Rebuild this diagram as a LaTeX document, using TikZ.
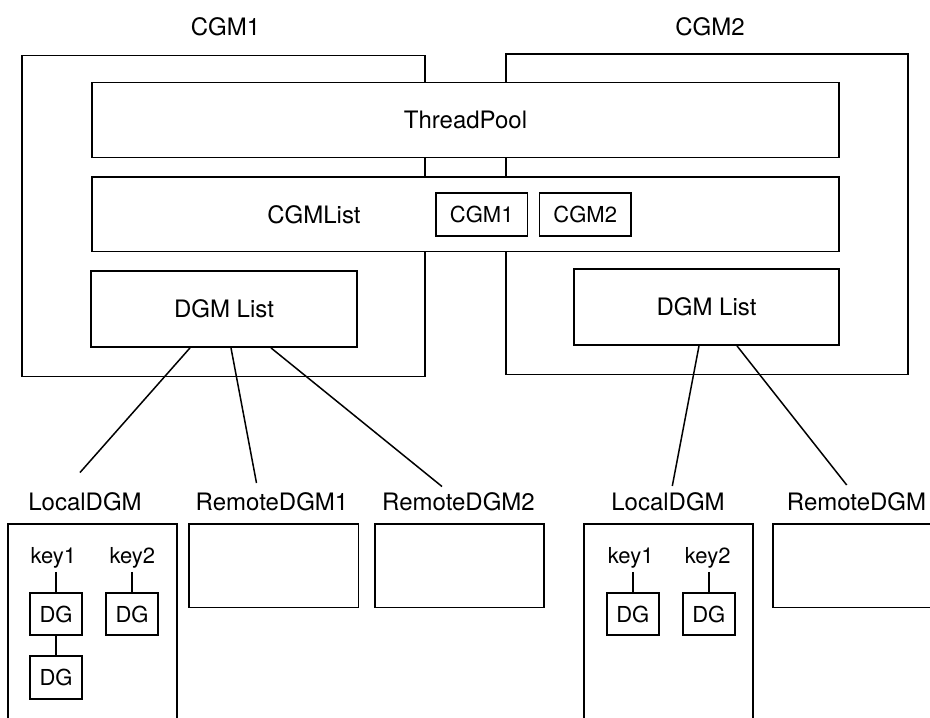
\documentclass[tikz,border=0pt]{standalone}
\usepackage{fontspec}
\setmainfont{TeX Gyre Heros}
\begin{document}
\begin{tikzpicture}[x=1pt,y=-1pt,
  frame/.style={draw, line width=1.8pt, inner sep=0pt},
  box/.style={draw, fill=white, line width=1.8pt, inner sep=0pt, font=\fontsize{24}{28}\selectfont},
  sbox/.style={draw, fill=white, line width=1.8pt, inner sep=0pt, font=\fontsize{22}{26}\selectfont},
  lbl/.style={inner sep=0pt, anchor=base, font=\fontsize{24}{28}\selectfont},
  klbl/.style={inner sep=0pt, outer sep=3.5pt, anchor=base, font=\fontsize{22}{26}\selectfont},
  link/.style={line width=1.5pt}]
\useasboundingbox (0,0) rectangle (930,718);
\clip (0,0) rectangle (930,718);
% frames
\node[frame, minimum width=403pt, minimum height=321pt] (cgmA) at (223.5,216) {};
\node[frame, minimum width=402pt, minimum height=320.5pt] (cgmB) at (707,214.25) {};
\node[lbl] (tA) at (225.5,35) {CGM1};
\node[lbl] (tB) at (710,35) {CGM2};
% shared boxes
\node[box, minimum width=747pt, minimum height=75pt] (pool) at (465.5,120) {ThreadPool};
\node[box, minimum width=747pt, minimum height=74.5pt] (clist) at (465.5,214.25) {};
\node[lbl] (clistT) at (314,223.3) {CGMList};
\node[sbox, minimum width=91.5pt, minimum height=43pt] (c1) at (481.75,214.5) {CGM1};
\node[sbox, minimum width=91.5pt, minimum height=43pt] (c2) at (585.25,214.5) {CGM2};
% DGM lists
\node[box, minimum width=266pt, minimum height=76pt] (dlA) at (224,309) {DGM List};
\node[box, minimum width=265pt, minimum height=76pt] (dlB) at (706.5,307) {DGM List};
% labels
\node[lbl] (locA) at (85,510.5) {LocalDGM};
\node[lbl] (remA1) at (272,510.5) {RemoteDGM1};
\node[lbl] (remA2) at (458.5,510.5) {RemoteDGM2};
\node[lbl] (locB) at (668,510.5) {LocalDGM};
\node[lbl] (remB) at (856.5,510.5) {RemoteDGM};
% lower boxes
\node[frame, minimum width=169pt, minimum height=216pt] (locAbox) at (92.5,632) {};
\node[frame, minimum width=169.2pt, minimum height=83.2pt] (remA1box) at (273.9,565.9) {};
\node[frame, minimum width=169pt, minimum height=83.2pt] (remA2box) at (459.5,565.9) {};
\node[frame, minimum width=169pt, minimum height=216pt] (locBbox) at (668.8,632) {};
\node[frame, minimum width=169.3pt, minimum height=83.2pt] (remBbox) at (857.35,565.9) {};
% keys and DGs
\node[klbl] (keyA1) at (53.3,563.5) {key1};
\node[klbl] (keyA2) at (132.3,563.5) {key2};
\node[klbl] (keyB1) at (630.7,563.5) {key1};
\node[klbl] (keyB2) at (707.7,563.5) {key2};
\node[sbox, minimum width=52pt, minimum height=42.6pt] (dgA1) at (56,614) {DG};
\node[sbox, minimum width=52pt, minimum height=42.6pt] (dgA2) at (132,614) {DG};
\node[sbox, minimum width=52pt, minimum height=43pt] (dgA3) at (56,677.2) {DG};
\node[sbox, minimum width=52.3pt, minimum height=42.6pt] (dgB1) at (632.85,614) {DG};
\node[sbox, minimum width=52.3pt, minimum height=42.6pt] (dgB2) at (708.85,614) {DG};
\draw[link] (keyA1.south -| dgA1.north) -- (dgA1.north);
\draw[link] (keyA2.south -| dgA2.north) -- (dgA2.north);
\draw[link] (keyB1.south -| dgB1.north) -- (dgB1.north);
\draw[link] (keyB2.south -| dgB2.north) -- (dgB2.north);
\draw[link] (dgA1.south) -- (dgA3.north);
% DGM list connectors
\coordinate (eA1) at (80,472.5);
\coordinate (eA2) at (256.5,483);
\coordinate (eA3) at (442,486.5);
\coordinate (eB1) at (672.3,486);
\coordinate (eB2) at (846.7,485);
\draw[link] ([xshift=-34pt]dlA.south) -- (eA1);
\draw[link] ([xshift=7pt]dlA.south) -- (eA2);
\draw[link] ([xshift=47pt]dlA.south) -- (eA3);
\draw[link] ([xshift=-7.5pt]dlB.south) -- (eB1);
\draw[link] ([xshift=30.5pt]dlB.south) -- (eB2);
\end{tikzpicture}
\end{document}
